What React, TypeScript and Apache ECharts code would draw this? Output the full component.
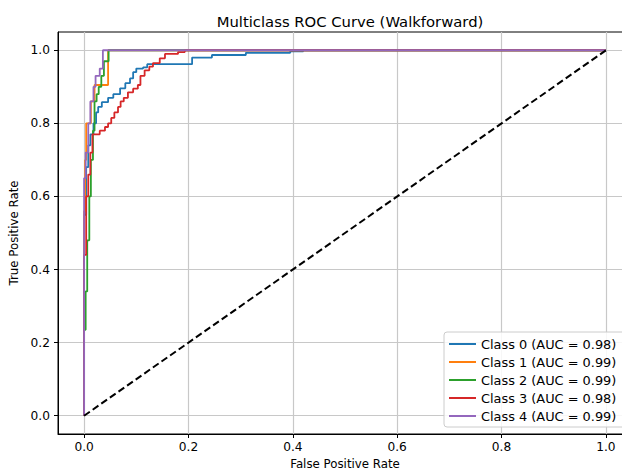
import React, { useEffect, useRef } from "react";
import * as echarts from "echarts";

const classNames = [
  "Class 0 (AUC = 0.98)",
  "Class 1 (AUC = 0.99)",
  "Class 2 (AUC = 0.99)",
  "Class 3 (AUC = 0.98)",
  "Class 4 (AUC = 0.99)",
];
const classColors = ["#1f77b4", "#ff7f0e", "#2ca02c", "#d62728", "#9467bd"];

const fpr0 = [0, 0, 0.004, 0.008, 0.012, 0.018, 0.023, 0.027, 0.034, 0.046, 0.056, 0.069, 0.079, 0.088, 0.094, 0.1, 0.113, 0.121, 0.207, 0.245, 0.31, 0.395, 0.42, 1];
const tpr0 = [0, 0.55, 0.68, 0.74, 0.77, 0.8, 0.83, 0.845, 0.858, 0.87, 0.88, 0.896, 0.91, 0.923, 0.94, 0.95, 0.953, 0.962, 0.98, 0.987, 0.993, 0.997, 1, 1];

const fpr1 = [0, 0, 0.002, 0.004, 0.013, 0.02, 0.046, 1];
const tpr1 = [0, 0.56, 0.7, 0.8, 0.86, 0.905, 1, 1];

const fpr2 = [0, 0, 0.003, 0.006, 0.01, 0.013, 0.017, 0.02, 0.024, 0.028, 0.033, 0.038, 0.047, 1];
const tpr2 = [0, 0.235, 0.34, 0.48, 0.6, 0.7, 0.78, 0.86, 0.88, 0.9, 0.93, 0.97, 1, 1];

const fpr3 = [0, 0, 0.004, 0.008, 0.012, 0.016, 0.03, 0.04, 0.046, 0.052, 0.058, 0.065, 0.07, 0.076, 0.084, 0.094, 0.103, 0.108, 0.116, 0.125, 0.132, 0.145, 0.155, 0.18, 0.193, 1];
const tpr3 = [0, 0.44, 0.6, 0.66, 0.72, 0.77, 0.78, 0.79, 0.8, 0.815, 0.83, 0.845, 0.86, 0.87, 0.885, 0.895, 0.905, 0.93, 0.945, 0.955, 0.965, 0.978, 0.99, 0.995, 1, 1];

const fpr4 = [0, 0, 0.003, 0.008, 0.012, 0.018, 0.022, 0.03, 0.036, 1];
const tpr4 = [0, 0.65, 0.72, 0.8, 0.86, 0.9, 0.93, 0.95, 1, 1];

const chanceX = [0, 1];
const chanceY = [0, 1];

const tickValues = [0, 0.2, 0.4, 0.6, 0.8, 1.0];

const fprs = [fpr0, fpr1, fpr2, fpr3, fpr4];
const tprs = [tpr0, tpr1, tpr2, tpr3, tpr4];

const FONT = "DejaVu Sans";
const FS = 12.2;

export default function App() {
  const ref = useRef<HTMLDivElement>(null);
  useEffect(() => {
    if (!ref.current) return;
    const chart = echarts.init(ref.current, null, { renderer: "svg" });
    const rocSeries = classNames.map((name, i) => ({
      name,
      type: "line",
      step: "end",
      data: fprs[i].map((x, k) => [x, tprs[i][k]]),
      showSymbol: false,
      symbol: "none",
      color: classColors[i],
      lineStyle: { width: 1.8, color: classColors[i] },
      z: 3 + i,
    }));
    const axisCommon = {
      type: "value",
      min: -0.05,
      max: 1.05,
      axisLine: { show: true, onZero: false, lineStyle: { color: "#000", width: 1 } },
      axisTick: { show: true, length: 4, lineStyle: { color: "#000" }, customValues: tickValues },
      splitLine: { show: true, lineStyle: { color: "#c8c8c8", width: 1.2 } },
      nameLocation: "middle",
      nameTextStyle: { fontFamily: FONT, fontSize: 11.8, color: "#000" },
    };
    chart.setOption({
      animation: false,
      backgroundColor: "#fff",
      title: {
        text: "Multiclass ROC Curve (Walkforward)",
        left: 345,
        textAlign: "center",
        top: 9,
        textStyle: { fontFamily: FONT, fontSize: 14.8, fontWeight: "normal", color: "#000" },
      },
      grid: {
        left: 58,
        top: 32,
        width: 574,
        height: 402,
        outerBoundsMode: "none",
        containLabel: false,
        show: true,
        borderColor: "#000",
        borderWidth: 1,
        backgroundColor: "transparent",
      },
      legend: {
        orient: "vertical",
        left: 444,
        top: 332,
        padding: [5, 10, 4, 5],
        itemWidth: 27,
        itemHeight: 2,
        itemGap: 4,
        itemTextGap: 9,
        icon: "rect",
        backgroundColor: "rgba(255,255,255,0.85)",
        borderColor: "#cccccc",
        borderWidth: 1,
        borderRadius: 3,
        data: classNames,
        textStyle: { fontFamily: FONT, fontSize: 12.9, color: "#000", lineHeight: 14 },
      },
      xAxis: {
        ...axisCommon,
        name: "False Positive Rate",
        nameGap: 22,
        axisLabel: {
          customValues: tickValues,
          margin: 7,
          fontFamily: FONT,
          fontSize: FS,
          color: "#000",
          formatter: (v: number) => v.toFixed(1),
        },
      },
      yAxis: {
        ...axisCommon,
        name: "True Positive Rate",
        nameGap: 30,
        axisLabel: {
          customValues: tickValues,
          margin: 8,
          fontFamily: FONT,
          fontSize: FS,
          color: "#000",
          formatter: (v: number) => v.toFixed(1),
        },
      },
      series: [
        ...rocSeries,
        {
          name: "chance",
          type: "line",
          data: chanceX.map((x, k) => [x, chanceY[k]]),
          showSymbol: false,
          symbol: "none",
          lineStyle: { color: "#000", width: 2, type: [7, 3.5] },
          z: 10,
        },
      ],
    });
    return () => chart.dispose();
  }, []);
  return (
    <div
      ref={ref}
      style={{ position: "fixed", left: 0, top: 0, width: 622, height: 471 }}
    />
  );
}
